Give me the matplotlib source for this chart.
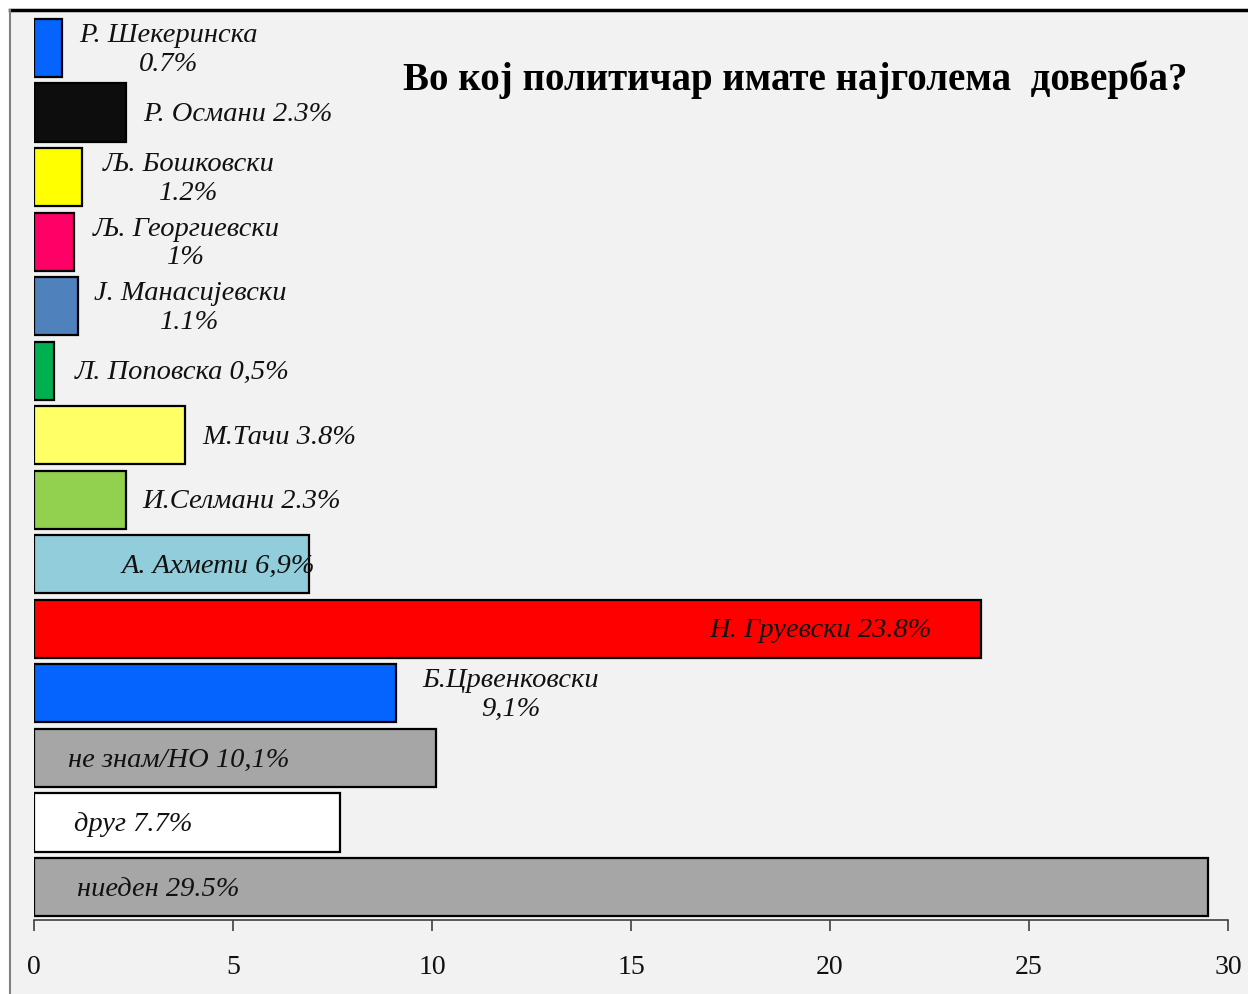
import matplotlib
matplotlib.use("Agg")
import matplotlib.pyplot as plt
from matplotlib.patches import Rectangle

# ---- data (top to bottom) ----
names = ["Р. Шекеринска", "Р. Османи", "Љ. Бошковски", "Љ. Георгиевски",
         "Ј. Манасијевски", "Л. Поповска", "М.Тачи", "И.Селмани",
         "А. Ахмети", "Н. Груевски", "Б.Црвенковски", "не знам/НО",
         "друг", "ниеден"]
values = [0.7, 2.3, 1.2, 1.0, 1.1, 0.5, 3.8, 2.3, 6.9, 23.8, 9.1, 10.1, 7.7, 29.5]
value_labels = ["0.7%", "2.3%", "1.2%", "1%", "1.1%", "0,5%", "3.8%", "2.3%",
                "6,9%", "23.8%", "9,1%", "10,1%", "7.7%", "29.5%"]
colors = ["#0563fe", "#0d0d0d", "#ffff00", "#ff0066", "#4f81bd", "#00b050",
          "#ffff66", "#92d050", "#92cddc", "#ff0000", "#0563fe", "#a6a6a6",
          "#ffffff", "#a6a6a6"]
x_ticks = [0, 5, 10, 15, 20, 25, 30]
title = "Во кој политичар имате најголема  доверба?"

# label layout: (x, ha, two_lines)
label_pos = [(3.37, "center", True), (2.74, "left", False), (3.89, "center", True),
             (3.82, "center", True), (3.92, "center", True), (1.03, "left", False),
             (4.22, "left", False), (2.71, "left", False), (2.21, "left", False),
             (16.98, "left", False), (11.98, "center", True), (0.85, "left", False),
             (1.0, "left", False), (1.08, "left", False)]

W, H = 1248, 994
fig = plt.figure(figsize=(W / 100, H / 100), dpi=100)
fig.patch.set_facecolor("white")

# panel background with frame
fig.patches.append(Rectangle((10 / W, 0), 1, 1 - 10 / H, transform=fig.transFigure,
                             facecolor="#f2f2f2", edgecolor="none", zorder=-10))
fig.lines.append(plt.Line2D([10 / W, 1], [1 - 10 / H, 1 - 10 / H], transform=fig.transFigure,
                            color="black", lw=2.5))
fig.lines.append(plt.Line2D([10 / W, 10 / W], [0, 1 - 10 / H], transform=fig.transFigure,
                            color="#7f7f7f", lw=1.5))

ax = fig.add_axes([34 / W, 74 / H, 1194 / W, 905 / H])
ax.set_facecolor("none")

ypos = list(range(len(values)))
ax.barh(ypos, values, height=0.9, color=colors, edgecolor="black", linewidth=1.6)

ax.set_xlim(0, 30)
ax.set_ylim(len(values) - 0.49, -0.51)
ax.set_yticks([])
ax.set_xticks(x_ticks)
ax.set_xticklabels([str(t) for t in x_ticks], fontfamily="Liberation Serif", fontsize=20)
ax.tick_params(axis="x", direction="out", length=8, width=1.2, color="#404040",
               pad=17, labelcolor="#111111")
for s in ["top", "right", "left"]:
    ax.spines[s].set_visible(False)
ax.spines["bottom"].set_color("#404040")
ax.spines["bottom"].set_linewidth(1.2)

for i, (n, v) in enumerate(zip(names, value_labels)):
    x, ha, two = label_pos[i]
    txt = f"{n}\n{v}" if two else f"{n} {v}"
    ax.text(x, i + 0.03, txt, ha=ha, va="center", multialignment="center",
            fontfamily="Liberation Serif", fontstyle="italic", fontsize=20.5,
            color="#111111", linespacing=1.2)

fig.text(795 / W, 1 - 80 / H, title, ha="center", va="center",
         fontfamily="Liberation Serif", fontweight="bold", fontsize=28, color="black")

fig.savefig("out.png", dpi=100)
